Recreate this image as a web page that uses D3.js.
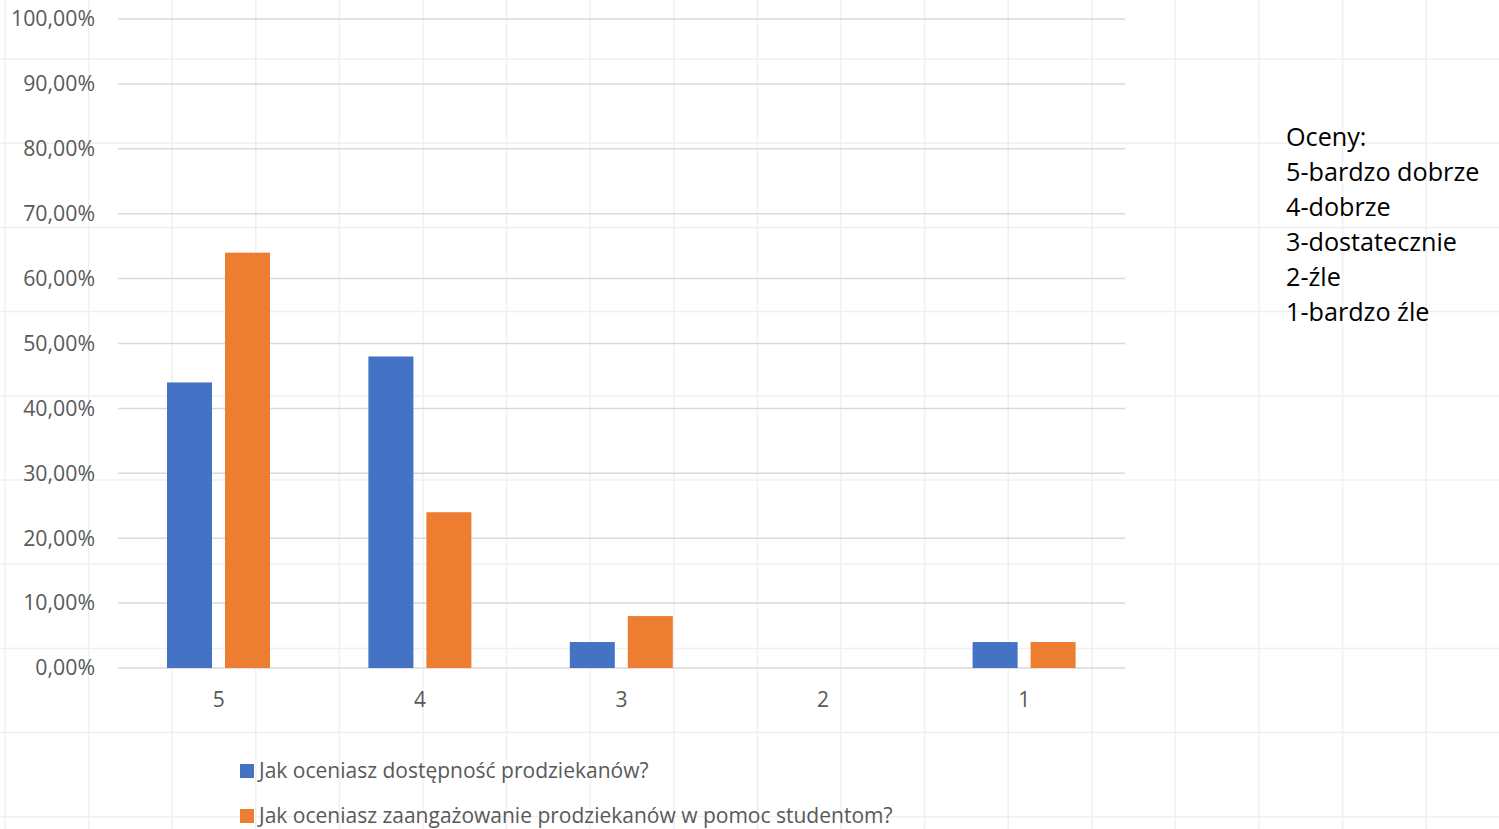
<!DOCTYPE html>
<html>
<head>
<meta charset="utf-8">
<script src="https://cdn.jsdelivr.net/npm/d3@7"></script>
<style>
  html, body { margin: 0; padding: 0; background: #ffffff; }
  svg { display: block; }
  text { font-family: "Open Sans", "Noto Sans", sans-serif; }
</style>
</head>
<body>
<svg id="chart" width="1499" height="829"></svg>
<script>
// ---- data ----
const categories = ["5", "4", "3", "2", "1"];
const seriesNames = [
  "Jak oceniasz dostępność prodziekanów?",
  "Jak oceniasz zaangażowanie prodziekanów w pomoc studentom?"
];
const dostepnosc = [0.44, 0.48, 0.04, 0.00, 0.04];
const zaangazowanie = [0.64, 0.24, 0.08, 0.00, 0.04];
const seriesColors = ["#4472C4", "#ED7D31"];
const yTicks = [0, 0.1, 0.2, 0.3, 0.4, 0.5, 0.6, 0.7, 0.8, 0.9, 1.0];
const notes = ["Oceny:", "5-bardzo dobrze", "4-dobrze", "3-dostatecznie", "2-źle", "1-bardzo źle"];

const W = 1499, H = 829;
const svg = d3.select("#chart");

// faint spreadsheet cell grid in the background
const cellW = 83.6, cellH = 84.2;
const bg = svg.append("g").attr("stroke", "#f0f0f0").attr("stroke-width", 1.5);
bg.selectAll("line.v").data(d3.range(5, W, cellW)).join("line")
  .attr("x1", d => d).attr("x2", d => d).attr("y1", 0).attr("y2", H);
bg.selectAll("line.h").data(d3.range(59 - cellH, H, cellH).filter(v => v > 0)).join("line")
  .attr("y1", d => d).attr("y2", d => d).attr("x1", 0).attr("x2", W);

// scales
const plotLeft = 118, plotRight = 1125, plotTop = 19, plotBottom = 668;
const x = d3.scaleBand().domain(categories).range([plotLeft, plotRight]).paddingInner(0).paddingOuter(0);
const xs = d3.scaleBand().domain([0, 1]).range([49, 152]).paddingInner(0.224).paddingOuter(0);
const y = d3.scaleLinear().domain([0, 1]).range([plotBottom, plotTop]);

// gridlines
svg.append("g").selectAll("line").data(yTicks).join("line")
  .attr("x1", plotLeft).attr("x2", plotRight)
  .attr("y1", d => y(d)).attr("y2", d => y(d))
  .attr("stroke", "#d9d9d9").attr("stroke-width", 1.5);

// y axis
const yAxis = svg.append("g").attr("transform", `translate(${plotLeft},0)`)
  .call(d3.axisLeft(y).tickValues(yTicks).tickSize(0).tickPadding(23)
    .tickFormat(d => (d * 100).toFixed(2).replace(".", ",") + "%"));
yAxis.select(".domain").remove();
yAxis.selectAll("text").attr("fill", "#595959").style("font-size", "21.3px")
  .style("font-family", "'Open Sans', sans-serif");

// x axis
const xAxis = svg.append("g").attr("transform", `translate(0,${plotBottom})`)
  .call(d3.axisBottom(x).tickSize(0).tickPadding(24));
xAxis.select(".domain").remove();
xAxis.selectAll("text").attr("fill", "#595959").style("font-size", "21px")
  .style("font-family", "'Open Sans', sans-serif");

// bars
const data = [dostepnosc, zaangazowanie];
data.forEach((vals, si) => {
  svg.append("g").selectAll("rect").data(categories.map((c, i) => ({ c, v: vals[i] }))).join("rect")
    .attr("x", d => x(d.c) + xs(si))
    .attr("width", xs.bandwidth())
    .attr("y", d => y(d.v))
    .attr("height", d => y(0) - y(d.v))
    .attr("fill", seriesColors[si]);
});

// legend
const legend = svg.append("g");
const legendY = [771, 816];
seriesNames.forEach((name, i) => {
  legend.append("rect").attr("x", 240).attr("y", legendY[i] - 7).attr("width", 14).attr("height", 14)
    .attr("fill", seriesColors[i]);
  legend.append("text").attr("x", 259).attr("y", legendY[i]).attr("dy", "0.35em")
    .attr("fill", "#595959").style("font-size", "21px").text(name);
});

// notes
const noteG = svg.append("g");
noteG.selectAll("text").data(notes).join("text")
  .attr("x", 1286).attr("y", (d, i) => 137 + i * 35).attr("dy", "0.35em")
  .attr("fill", "#000000").style("font-size", "25.2px").text(d => d);
</script>
</body>
</html>
